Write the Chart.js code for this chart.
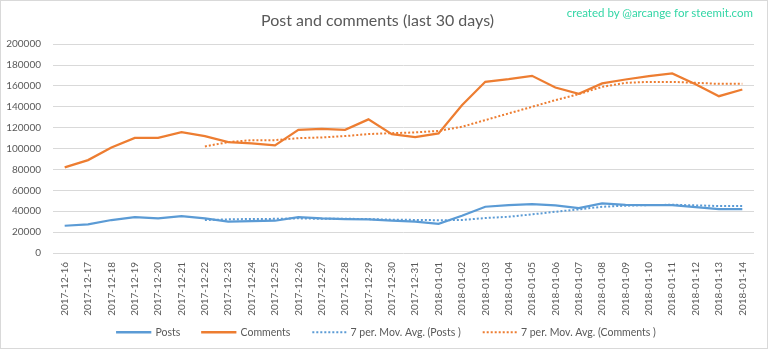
<!DOCTYPE html>
<html>
<head>
<meta charset="utf-8">
<script src="https://cdn.jsdelivr.net/npm/chart.js@4.4.1/dist/chart.umd.min.js"></script>
<style>
  html, body { margin: 0; padding: 0; background: #fff; }
  #wrap { position: relative; width: 766px; height: 347px; border: 1px solid #d9d9d9; }
  #mark { position: absolute; right: 14px; top: 5px; font-family: Lato, "Open Sans", sans-serif; font-size: 11.5px; color: #33d6a6; }
</style>
</head>
<body>
<div id="wrap">
  <canvas id="c" width="766" height="347"></canvas>
  <div id="mark">created by @arcange for steemit.com</div>
</div>
<script>
const categories = ["2017-12-16","2017-12-17","2017-12-18","2017-12-19","2017-12-20","2017-12-21","2017-12-22","2017-12-23","2017-12-24","2017-12-25","2017-12-26","2017-12-27","2017-12-28","2017-12-29","2017-12-30","2017-12-31","2018-01-01","2018-01-02","2018-01-03","2018-01-04","2018-01-05","2018-01-06","2018-01-07","2018-01-08","2018-01-09","2018-01-10","2018-01-11","2018-01-12","2018-01-13","2018-01-14"];
const posts = [26100,27500,31600,34400,33200,35400,33200,30000,30600,30900,34400,33200,32500,32200,30900,30000,28000,35700,44300,45900,46900,45600,43000,47500,46200,45900,45900,44000,42100,42100];
const comments = [82000,89000,101000,110300,110300,115800,112000,106200,105000,103000,118000,119000,118000,128000,113900,111000,114500,141600,164000,166500,169700,158500,152500,162400,166200,169400,172000,161700,150200,156600];
const postsMA = [null,null,null,null,null,null,31600,32200,32600,32700,33200,32700,32800,32500,31900,31700,31400,31600,33500,34700,37000,39500,41800,44300,45300,45900,46200,45600,45000,45000];
const commentsMA = [null,null,null,null,null,null,102100,106200,108100,108100,110000,110700,112000,113900,114800,115500,117000,120900,127300,133700,140000,146400,152200,159100,163000,163900,163900,163000,162000,162000];
const yTicks = { min: 0, max: 200000, step: 20000 };

const FONT = "Lato, 'Open Sans', sans-serif";
const TXT = "#595959";
const BLUE = "#5B9BD5", ORANGE = "#ED7D31";

const legendPlacement = {
  id: 'legendPlacement',
  beforeLayout(chart) {
    const lg = chart.legend;
    if (lg && !lg._fixed) {
      const orig = lg.fit;
      lg.fit = function () { orig.call(this); this.height = 29; };
      lg._fixed = true;
    }
  },
  afterLayout(chart) {
    const lg = chart.legend;
    if (lg) {
      lg.top = 304;
      lg.bottom = 347;
      lg.height = 43;
      lg.left += 9;
      lg.right += 9;
    }
  }
};

new Chart(document.getElementById('c'), {
  type: 'line',
  data: {
    labels: categories,
    datasets: [
      { label: 'Posts', data: posts, borderColor: BLUE, backgroundColor: BLUE, borderWidth: 2.25, pointRadius: 0, tension: 0 },
      { label: 'Comments', data: comments, borderColor: ORANGE, backgroundColor: ORANGE, borderWidth: 2.25, pointRadius: 0, tension: 0 },
      { label: '7 per. Mov. Avg. (Posts )', data: postsMA, borderColor: BLUE, backgroundColor: BLUE, borderWidth: 2, borderDash: [2, 2], pointRadius: 0, tension: 0 },
      { label: '7 per. Mov. Avg. (Comments )', data: commentsMA, borderColor: ORANGE, backgroundColor: ORANGE, borderWidth: 2, borderDash: [2, 2], pointRadius: 0, tension: 0 }
    ]
  },
  plugins: [legendPlacement],
  options: {
    responsive: false,
    animation: false,
    layout: { padding: { left: 0, right: 13, top: 0, bottom: 0 } },
    plugins: {
      title: {
        display: true,
        text: 'Post and comments (last 30 days)',
        color: TXT,
        font: { family: FONT, size: 16, weight: 'normal' },
        padding: { top: 10, bottom: 14 }
      },
      legend: {
        position: 'bottom',
        labels: {
          color: TXT,
          font: { family: FONT, size: 10.5 },
          usePointStyle: false,
          boxWidth: 33,
          boxHeight: 0.01,
          padding: 22
        }
      },
      tooltip: { enabled: false }
    },
    scales: {
      x: {
        offset: true,
        grid: { display: false, drawTicks: false },
        border: { display: false },
        ticks: {
          color: TXT,
          font: { family: FONT, size: 10 },
          minRotation: 90, maxRotation: 90,
          autoSkip: false,
          padding: 9
        },
        afterFit: (s) => { s.height = 66; }
      },
      y: {
        min: yTicks.min, max: yTicks.max,
        grid: { color: '#d9d9d9', lineWidth: 1, drawTicks: false },
        border: { display: false },
        ticks: {
          stepSize: yTicks.step,
          color: TXT,
          font: { family: FONT, size: 10 },
          padding: 12,
          callback: (v) => String(v)
        },
        afterFit: (s) => { s.width = 52; }
      }
    }
  }
});
</script>
</body>
</html>
